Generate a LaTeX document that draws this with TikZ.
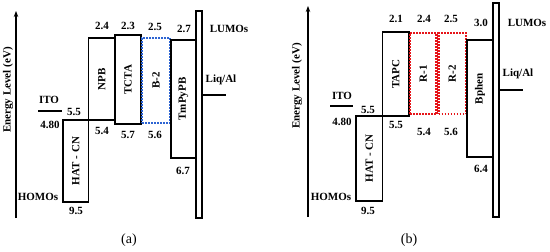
\documentclass[tikz,border=0pt]{standalone}
\usepackage{fontspec}
\setmainfont{Liberation Serif}
\usetikzlibrary{arrows.meta}
\definecolor{dotblue}{RGB}{45,100,210}
\definecolor{dotred}{RGB}{230,20,25}
\begin{document}
\begin{tikzpicture}[x=1pt,y=-1pt,
  lbl/.style={font=\bfseries\fontsize{11}{13}\selectfont, inner sep=0pt},
  layer/.style={draw, line width=1.4pt, inner sep=0pt, font=\bfseries\fontsize{11}{13}\selectfont},
  bdot/.style={draw=dotblue, line width=2.2pt, dash pattern=on 1.6pt off 1.4pt, inner sep=0pt, font=\bfseries\fontsize{11}{13}\selectfont},
  rdot/.style={draw=dotred, line width=2.2pt, dash pattern=on 1.6pt off 1.4pt, inner sep=0pt, font=\bfseries\fontsize{11}{13}\selectfont},
  barbox/.style={draw, fill=white, line width=1.3pt, inner sep=0pt},
  level/.style={line width=1.4pt},
  axis/.style={line width=1.3pt, -{Stealth[length=6pt,width=4.5pt]}},
  captext/.style={font=\fontsize{14}{16}\selectfont, inner sep=0pt}]
\useasboundingbox (0,0) rectangle (550,252);

% ================= panel (a) =================
\coordinate (aA0) at (16,218);
\coordinate (aA1) at (16,11);
\draw[axis] (aA0) -- (aA1);
\node[lbl, rotate=90] (aE) at (8,90) {Energy Level (eV)};

\coordinate (aI0) at (38,111);
\coordinate (aI1) at (62,111);
\draw[level] (aI0) -- (aI1);
\node[lbl] (aITO) at (49,100) {ITO};
\node[lbl] (a55) at (74,112) {5.5};
\node[lbl] (a480) at (50,125) {4.80};
\node[lbl] (aHOMO) at (38,197) {HOMOs};
\node[lbl] (a95) at (76,211) {9.5};

\node[layer, minimum width=25.5pt, minimum height=82pt] (aHAT) at (75.75,161) {\rotatebox{90}{HAT - CN}};
\node[layer, minimum width=26.5pt, minimum height=82pt] (aNPB) at (101.75,79) {\rotatebox{90}{NPB}};
\node[layer, minimum width=26pt, minimum height=89pt] (aTCTA) at (128,79.5) {\rotatebox{90}{TCTA}};
\node[bdot, minimum width=28pt, minimum height=85pt] (aB2) at (156,80.5) {\rotatebox{90}{B-2}};
\node[layer, minimum width=25pt, minimum height=118pt] (aTm) at (183.5,99) {\rotatebox{90}{TmPyPB}};
\node[barbox, minimum width=6pt, minimum height=207pt] (aBar) at (199,114.5) {};

\node[lbl] (a24) at (102,26) {2.4};
\node[lbl] (a23) at (128,26) {2.3};
\node[lbl] (a25) at (155,27) {2.5};
\node[lbl] (a27) at (184,29) {2.7};
\node[lbl] (aLUMO) at (229,29) {LUMOs};
\node[lbl] (a54) at (102,131) {5.4};
\node[lbl] (a57) at (128,135) {5.7};
\node[lbl] (a56) at (155,135) {5.6};
\node[lbl] (a67) at (183,171) {6.7};

\node[lbl] (aLiq) at (221,80) {Liq/Al};
\coordinate (aL0) at (203,95);
\coordinate (aL1) at (226,95);
\draw[level] (aL0) -- (aL1);

\node[captext] (acap) at (129,240) {(a)};

% ================= panel (b) =================
\coordinate (bA0) at (308,217);
\coordinate (bA1) at (308,6);
\draw[axis] (bA0) -- (bA1);
\node[lbl, rotate=90] (bE) at (297,86) {Energy Level (eV)};

\coordinate (bI0) at (330,106);
\coordinate (bI1) at (353,106);
\draw[level] (bI0) -- (bI1);
\node[lbl] (bITO) at (342,96) {ITO};
\node[lbl] (b55a) at (368,110) {5.5};
\node[lbl] (b480) at (342,122) {4.80};
\node[lbl] (bHOMO) at (331,197) {HOMOs};
\node[lbl] (b95) at (368,211) {9.5};

\node[layer, minimum width=26.5pt, minimum height=85pt] (bHAT) at (369.25,158.5) {\rotatebox{90}{HAT - CN}};
\node[layer, minimum width=26.5pt, minimum height=84pt] (bTAPC) at (395.75,74) {\rotatebox{90}{TAPC}};
\node[rdot, minimum width=26.5pt, minimum height=81pt] (bR1) at (423.25,73.5) {\rotatebox{90}{R-1}};
\node[rdot, minimum width=27.5pt, minimum height=81pt] (bR2) at (452.25,73.5) {\rotatebox{90}{R-2}};
\node[layer, minimum width=26pt, minimum height=117pt] (bBph) at (480,98.5) {};
\node[lbl, rotate=90] (bBphL) at (480,89) {Bphen};
\node[barbox, minimum width=6pt, minimum height=214pt] (bBar) at (496,110) {};

\node[lbl] (b21) at (396,19) {2.1};
\node[lbl] (b24) at (424,19) {2.4};
\node[lbl] (b25) at (451,19) {2.5};
\node[lbl] (b30) at (481,23) {3.0};
\node[lbl] (bLUMO) at (527,23) {LUMOs};
\node[lbl] (b55b) at (396,125) {5.5};
\node[lbl] (b54) at (424,132) {5.4};
\node[lbl] (b56) at (451,132) {5.6};
\node[lbl] (b64) at (481,169) {6.4};

\node[lbl] (bLiq) at (518,74) {Liq/Al};
\coordinate (bL0) at (500,90);
\coordinate (bL1) at (523,90);
\draw[level] (bL0) -- (bL1);

\node[captext] (bcap) at (409,240) {(b)};
\end{tikzpicture}
\end{document}
